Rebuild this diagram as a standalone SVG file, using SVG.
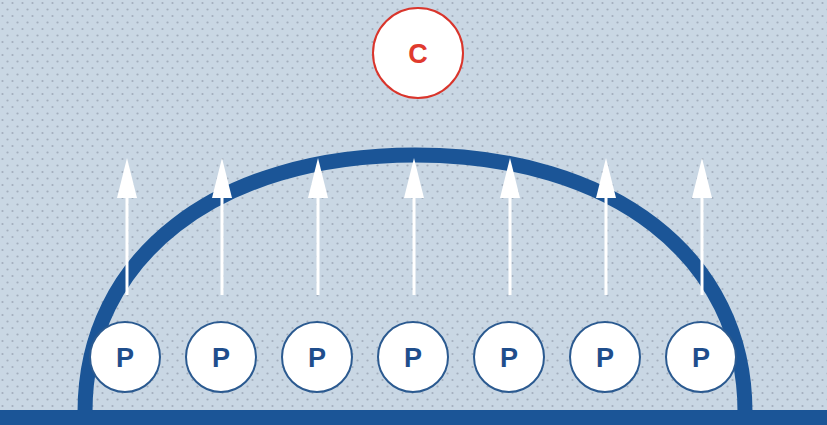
<svg xmlns="http://www.w3.org/2000/svg" width="827" height="425" viewBox="0 0 827 425">
<defs>
<pattern id="dots" width="10" height="13" patternUnits="userSpaceOnUse">
<rect width="10" height="13" fill="#c9d7e4"/>
<circle cx="2.5" cy="3" r="1.1" fill="#a3aebd"/>
<circle cx="7.5" cy="9.5" r="1.1" fill="#a3aebd"/>
</pattern>
<marker id="ah" viewBox="0 0 40 20" refX="0" refY="10" markerWidth="40" markerHeight="20" markerUnits="userSpaceOnUse" orient="auto">
<path d="M0 0 L40 10 L0 20 Z" fill="#ffffff"/>
</marker>
<style>
.arr{stroke:#ffffff;stroke-width:3;fill:none}
.pc{fill:#ffffff;stroke:#2b5a90;stroke-width:2}
.pt{font-family:"Liberation Sans",Arial,sans-serif;font-weight:bold;font-size:27px;fill:#1f4e8c;text-anchor:middle}
</style>
</defs>
<rect width="827" height="425" fill="url(#dots)"/>
<g id="ground"><rect x="0" y="410" width="827" height="15" fill="#1b5597"/></g>
<g id="dome"><path d="M85 412 C85 257 217 155 415 155 C613 155 745 257 745 412" fill="none" stroke="#1b5597" stroke-width="15"/></g>
<g id="connectors">
<line class="arr" x1="127" y1="295" x2="127" y2="198" marker-end="url(#ah)"/>
<line class="arr" x1="222" y1="295" x2="222" y2="198" marker-end="url(#ah)"/>
<line class="arr" x1="318" y1="295" x2="318" y2="198" marker-end="url(#ah)"/>
<line class="arr" x1="414" y1="295" x2="414" y2="198" marker-end="url(#ah)"/>
<line class="arr" x1="510" y1="295" x2="510" y2="198" marker-end="url(#ah)"/>
<line class="arr" x1="606" y1="295" x2="606" y2="198" marker-end="url(#ah)"/>
<line class="arr" x1="702" y1="295" x2="702" y2="198" marker-end="url(#ah)"/>
</g>
<g id="C"><circle cx="418" cy="53" r="45" fill="#ffffff" stroke="#d9352c" stroke-width="2"/><text x="418" y="63" font-family="Liberation Sans,Arial,sans-serif" font-weight="bold" font-size="27" fill="#e03a2e" text-anchor="middle">C</text></g>
<g id="P1"><circle class="pc" cx="125" cy="357" r="35"/><text class="pt" x="125" y="367">P</text></g>
<g id="P2"><circle class="pc" cx="221" cy="357" r="35"/><text class="pt" x="221" y="367">P</text></g>
<g id="P3"><circle class="pc" cx="317" cy="357" r="35"/><text class="pt" x="317" y="367">P</text></g>
<g id="P4"><circle class="pc" cx="413" cy="357" r="35"/><text class="pt" x="413" y="367">P</text></g>
<g id="P5"><circle class="pc" cx="509" cy="357" r="35"/><text class="pt" x="509" y="367">P</text></g>
<g id="P6"><circle class="pc" cx="605" cy="357" r="35"/><text class="pt" x="605" y="367">P</text></g>
<g id="P7"><circle class="pc" cx="701" cy="357" r="35"/><text class="pt" x="701" y="367">P</text></g>
</svg>
